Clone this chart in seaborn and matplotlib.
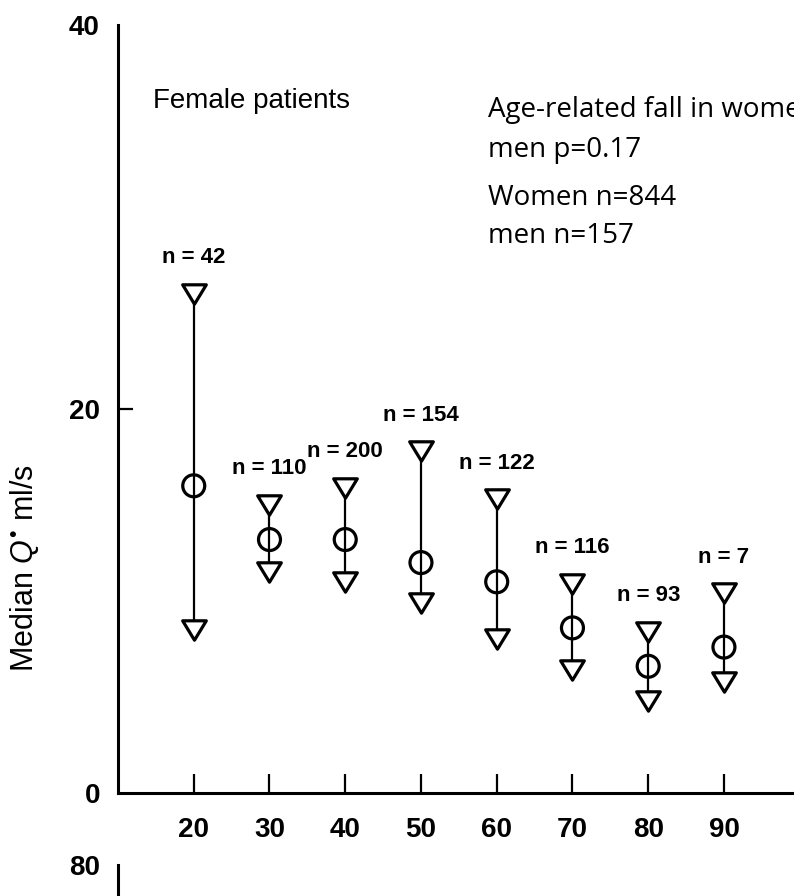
import matplotlib
matplotlib.use("Agg")
import matplotlib.pyplot as plt
import numpy as np
import pandas as pd
import seaborn as sns
from matplotlib.path import Path

# Urinary flow by age decade, female patients
age_groups = [20, 30, 40, 50, 60, 70, 80, 90]
median_flow = [16.0, 13.2, 13.2, 12.0, 11.0, 8.6, 6.6, 7.6]
upper_flow = [26.0, 15.0, 15.9, 17.8, 15.3, 10.9, 8.4, 10.4]
lower_flow = [8.5, 11.5, 11.0, 9.9, 8.0, 6.4, 4.8, 5.8]
group_sizes = [42, 110, 200, 154, 122, 116, 93, 7]

x_ticks = [20, 30, 40, 50, 60, 70, 80, 90]
y_ticks = [0, 20, 40]

panel_title = "Female patients"
note_lines = ["Age-related fall in women", "men p=0.17", "Women n=844", "men n=157"]
y_label = r"Median $\mathit{Q}^{\mathrm{•}}$ ml/s"

sns.set_theme(style="ticks")
plt.rcParams["font.family"] = ["Liberation Sans", "DejaVu Sans"]
plt.rcParams["mathtext.fontset"] = "custom"
plt.rcParams["mathtext.rm"] = "Liberation Sans"
plt.rcParams["mathtext.it"] = "Liberation Sans:italic"

W, H = 794, 896
fig = plt.figure(figsize=(W / 100, H / 100), dpi=100)
fig.patch.set_facecolor("white")


def fx(px):
    return px / W


def fy(py):
    return 1 - py / H


ax = fig.add_axes([fx(118), fy(793), fx(794 - 118), (793 - 25) / H])
ax.set_facecolor("white")

# range lines behind the markers
ax.vlines(age_groups, lower_flow, upper_flow, color="black", lw=1.6, zorder=1)

ends = pd.DataFrame({
    "age": age_groups * 2,
    "flow": upper_flow + lower_flow,
})
mid = pd.DataFrame({"age": age_groups, "flow": median_flow})

tri = Path([(-1, 0.82), (1, 0.82), (0, -0.82), (-1, 0.82)],
           [Path.MOVETO, Path.LINETO, Path.LINETO, Path.CLOSEPOLY])

sns.scatterplot(data=ends, x="age", y="flow", marker=tri, s=290,
                color="white", edgecolor="black", linewidth=2.3,
                ax=ax, zorder=3, legend=False)
sns.scatterplot(data=mid, x="age", y="flow", marker="o", s=250,
                color="none", edgecolor="black", linewidth=2.3,
                ax=ax, zorder=3, legend=False)

for age, up, n in zip(age_groups, upper_flow, group_sizes):
    ax.annotate(f"n = {n}", xy=(age, up), xytext=(0, 22),
                textcoords="offset points", ha="center", va="baseline",
                fontsize=16, fontweight="bold", color="black")

ax.set_xlim(10, 99.25)
ax.set_ylim(0, 40)
ax.set_xticks(x_ticks)
ax.set_xticklabels([str(t) for t in x_ticks])
ax.set_yticks(y_ticks)
ax.set_yticklabels([str(t) for t in y_ticks])
ax.set_xlabel("")

for side in ("top", "right"):
    ax.spines[side].set_visible(False)
for side in ("left", "bottom"):
    ax.spines[side].set_linewidth(2.2)
    ax.spines[side].set_color("black")

ax.tick_params(axis="x", direction="in", length=14, width=1.6, pad=17,
               labelsize=20, colors="black")
ax.tick_params(axis="y", direction="in", length=11, width=1.6, pad=13,
               labelsize=20, colors="black")
for lab in ax.get_xticklabels() + ax.get_yticklabels():
    lab.set_fontweight("bold")
ticks_y = ax.yaxis.get_major_ticks()
ticks_y[0].tick1line.set_visible(False)
ticks_y[2].tick1line.set_visible(False)

ax.set_ylabel(y_label, fontsize=22, color="black")
ax.yaxis.set_label_coords((25 - 118) / (794 - 118), (793 - 568) / 768)
ax.yaxis.label.set_va("center")

fig.text(fx(153), fy(108), panel_title, fontsize=20, color="black",
         va="baseline", ha="left")

for line, base in zip(note_lines, [117, 157, 205, 243]):
    fig.text(fx(488), fy(base), line, fontsize=20, color="black",
             family=["Open Sans", "DejaVu Sans"], va="baseline", ha="left")

# top of the panel below
ax2 = fig.add_axes([fx(118), fy(865) - 0.5, 0.3, 0.5])
ax2.set_facecolor("none")
ax2.set_ylim(0, 80)
ax2.set_yticks([80])
ax2.set_yticklabels(["80"])
ax2.set_xticks([])
for side in ("top", "right", "bottom"):
    ax2.spines[side].set_visible(False)
ax2.spines["left"].set_linewidth(2.2)
ax2.spines["left"].set_color("black")
ax2.tick_params(axis="y", length=0, pad=13, labelsize=20, colors="black")
for lab in ax2.get_yticklabels():
    lab.set_fontweight("bold")

fig.savefig("out.png", dpi=100, facecolor="white")
